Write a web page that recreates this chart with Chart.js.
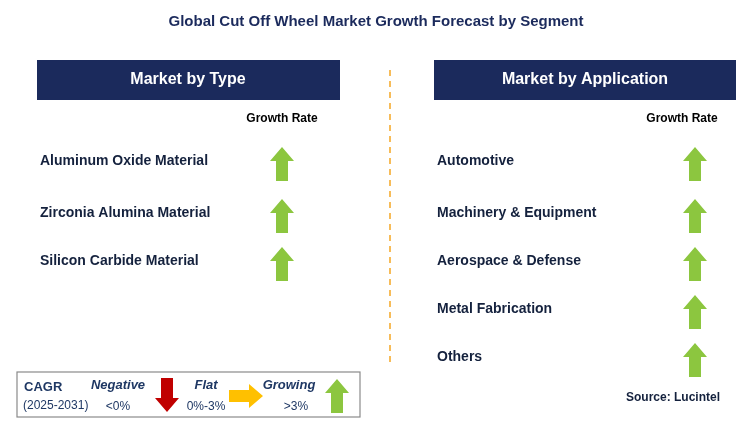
<!DOCTYPE html>
<html><head><meta charset="utf-8">
<script src="https://cdn.jsdelivr.net/npm/chart.js@4"></script>
<style>html,body{margin:0;padding:0;background:#fff}#c{display:block}</style>
</head><body>
<canvas id="c" width="753" height="438"></canvas>
<script>
// segment data
const typeSegments = ['Aluminum Oxide Material', 'Zirconia Alumina Material', 'Silicon Carbide Material'];
const typeGrowth = ['up', 'up', 'up'];
const appSegments = ['Automotive', 'Machinery & Equipment', 'Aerospace & Defense', 'Metal Fabrication', 'Others'];
const appGrowth = ['up', 'up', 'up', 'up', 'up'];
const rowY = [161, 213, 261, 309, 357];

const NAVY = '#1b2a5c';
const TXT = '#14213d';

function arrow(ctx, x, y, dir, color) {
    ctx.save();
    ctx.translate(x, y);
    if (dir === 'down') ctx.rotate(Math.PI);
    if (dir === 'right') ctx.rotate(Math.PI / 2);
    ctx.fillStyle = color;
    ctx.beginPath();
    ctx.moveTo(0, -17);
    ctx.lineTo(12, -3);
    ctx.lineTo(6, -3);
    ctx.lineTo(6, 17);
    ctx.lineTo(-6, 17);
    ctx.lineTo(-6, -3);
    ctx.lineTo(-12, -3);
    ctx.closePath();
    ctx.fill();
    ctx.restore();
}
const colorFor = { up: '#8cc63f', down: '#c00000', right: '#ffc000' };

const decor = {
    id: 'decor',
    beforeDatasetsDraw(chart) {
        const ctx = chart.ctx;
        const sx = chart.scales.x, sy = chart.scales.y;
        const X = v => sx.getPixelForValue(v), Y = v => sy.getPixelForValue(v);
        ctx.save();
        ctx.textBaseline = 'middle';
        ctx.fillStyle = NAVY;
        ctx.textAlign = 'center';
        ctx.font = 'bold 15px Arial, "Liberation Sans"';
        ctx.fillText('Global Cut Off Wheel Market Growth Forecast by Segment', X(376), Y(22));
        ctx.fillStyle = NAVY;
        ctx.fillRect(X(37), Y(60), 303, 40);
        ctx.fillRect(X(434), Y(60), 302, 40);
        ctx.fillStyle = '#fff';
        ctx.font = 'bold 16px Arial, "Liberation Sans"';
        ctx.fillText('Market by Type', X(188), Y(80));
        ctx.fillText('Market by Application', X(585), Y(80));
        ctx.fillStyle = '#000';
        ctx.font = 'bold 12px Arial, "Liberation Sans"';
        ctx.fillText('Growth Rate', X(282), Y(119));
        ctx.fillText('Growth Rate', X(682), Y(119));
        ctx.strokeStyle = '#f5a623';
        ctx.lineWidth = 1.5;
        ctx.setLineDash([6, 5]);
        ctx.beginPath(); ctx.moveTo(X(390), Y(70)); ctx.lineTo(X(390), Y(365)); ctx.stroke();
        ctx.setLineDash([]);
        ctx.textAlign = 'left';
        ctx.fillStyle = TXT;
        ctx.font = 'bold 14px Arial, "Liberation Sans"';
        typeSegments.forEach((s, i) => ctx.fillText(s, X(40), Y(rowY[i])));
        appSegments.forEach((s, i) => ctx.fillText(s, X(437), Y(rowY[i])));
        // legend
        ctx.strokeStyle = '#8a8a8a';
        ctx.lineWidth = 1.2;
        ctx.strokeRect(X(17), Y(372), 343, 45);
        ctx.fillStyle = '#1f3864';
        ctx.font = 'bold 13px Arial, "Liberation Sans"';
        ctx.fillText('CAGR', X(24), Y(387));
        ctx.font = '12px Arial, "Liberation Sans"';
        ctx.fillText('(2025-2031)', X(23), Y(406));
        ctx.textAlign = 'center';
        ctx.font = 'italic bold 13px Arial, "Liberation Sans"';
        ctx.fillText('Negative', X(118), Y(385));
        ctx.fillText('Flat', X(206), Y(385));
        ctx.fillText('Growing', X(289), Y(385));
        ctx.font = '12px Arial, "Liberation Sans"';
        ctx.fillText('<0%', X(118), Y(407));
        ctx.fillText('0%-3%', X(206), Y(407));
        ctx.fillText('>3%', X(296), Y(407));
        arrow(ctx, X(167), Y(395), 'down', colorFor.down);
        arrow(ctx, X(246), Y(396), 'right', colorFor.right);
        arrow(ctx, X(337), Y(396), 'up', colorFor.up);
        ctx.textAlign = 'right';
        ctx.fillStyle = TXT;
        ctx.font = 'bold 12px Arial, "Liberation Sans"';
        ctx.fillText('Source: Lucintel', X(720), Y(398));
        ctx.restore();
    },
    afterDatasetsDraw(chart) {
        chart.data.datasets.forEach((ds, di) => {
            chart.getDatasetMeta(di).data.forEach((pt, i) => {
                arrow(chart.ctx, pt.x, pt.y, ds.dirs[i], colorFor[ds.dirs[i]]);
            });
        });
    }
};

new Chart(document.getElementById('c'), {
    type: 'scatter',
    data: {
        datasets: [
            { data: typeGrowth.map((g, i) => ({ x: 282, y: rowY[i] + 3 })), dirs: typeGrowth, pointRadius: 0 },
            { data: appGrowth.map((g, i) => ({ x: 695, y: rowY[i] + 3 })), dirs: appGrowth, pointRadius: 0 }
        ]
    },
    options: {
        responsive: false,
        animation: false,
        layout: { padding: 0 },
        plugins: { legend: { display: false }, tooltip: { enabled: false } },
        scales: {
            x: { type: 'linear', min: 0, max: 753, display: false },
            y: { type: 'linear', min: 0, max: 438, reverse: true, display: false }
        }
    },
    plugins: [decor]
});
</script>
</body></html>
